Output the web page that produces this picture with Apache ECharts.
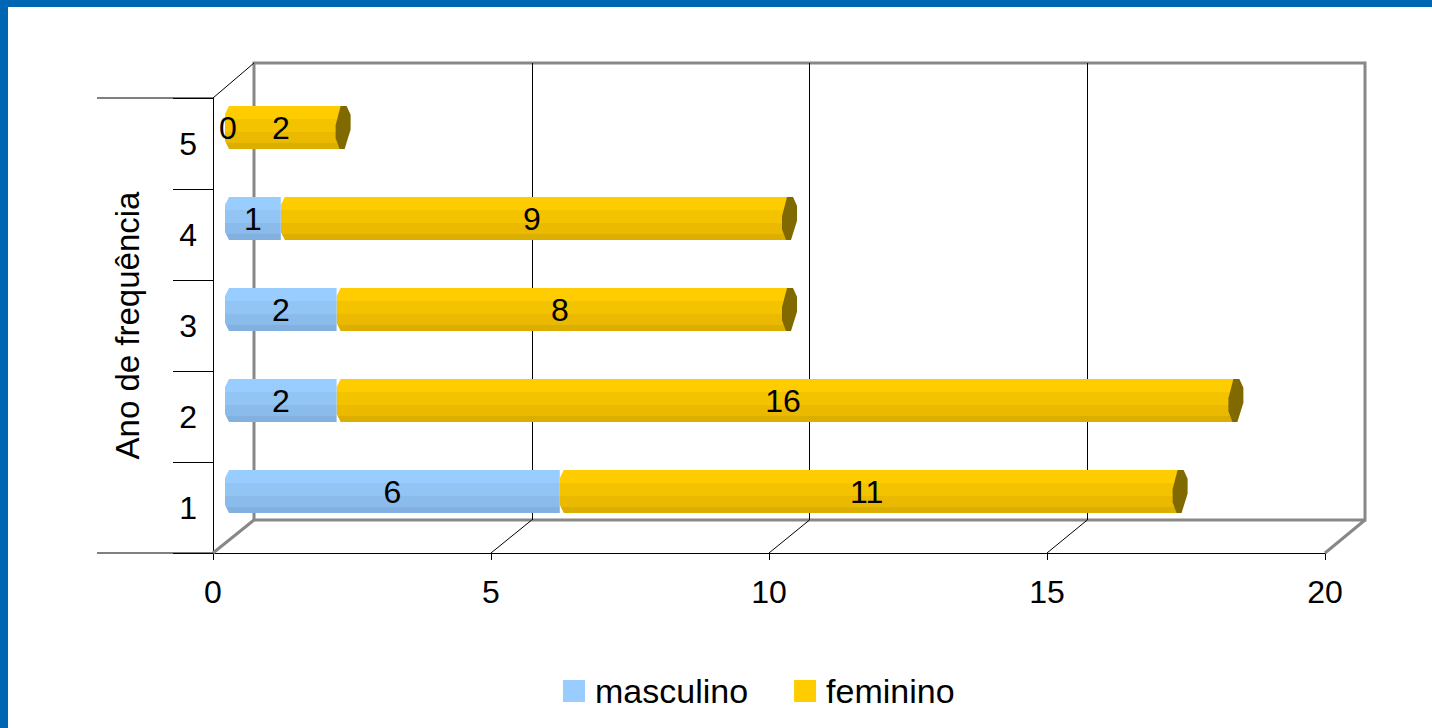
<!DOCTYPE html>
<html>
<head>
<meta charset="utf-8">
<script src="https://cdn.jsdelivr.net/npm/echarts@6/dist/echarts.min.js"></script>
<style>
html, body { margin: 0; padding: 0; background: #fff; }
#chart { position: absolute; left: 0; top: 0; width: 1432px; height: 728px; }
.faixa { position: absolute; background: #0066b3; z-index: 5; }
</style>
</head>
<body>
<div id="chart"></div>
<div class="faixa" style="left:0;top:0;width:1432px;height:7px"></div>
<div class="faixa" style="left:0;top:0;width:8px;height:728px"></div>
<script>
// dados
const categorias = ['1', '2', '3', '4', '5'];
const masculino = [6, 2, 2, 1, 0];
const feminino = [11, 16, 8, 9, 2];
const ticksX = [0, 5, 10, 15, 20];

const W = 1432, H = 728;
// caixa 3D: plano da frente, plano do fundo e plano das barras
const frente = { left: 213, right: 1325, top: 98, bottom: 553 };
const fundo = { left: 254, right: 1365, top: 63, bottom: 520 };
const plano = { left: 225, right: 1341, top: 82, bottom: 537 };

const fonte = 'Liberation Sans, Arial, sans-serif';

const corAzul = ['#99ccff', '#92c4f4', '#8bbbeb', '#82b0e0'];
const corOuro = ['#ffcc00', '#f4c300', '#eab900', '#dcae00'];

function gradiente(c) {
    return new echarts.graphic.LinearGradient(0, 0, 0, 1, [
        { offset: 0, color: c[0] }, { offset: 0.3, color: c[0] },
        { offset: 0.31, color: c[1] }, { offset: 0.6, color: c[1] },
        { offset: 0.61, color: c[2] }, { offset: 0.85, color: c[2] },
        { offset: 0.86, color: c[3] }, { offset: 1, color: c[3] }
    ]);
}

// desenha um segmento de barra (prisma) com o rótulo do valor
function barra(cores, tampa) {
    return function (params, api) {
        const cat = api.value(0), ini = api.value(1), fim = api.value(2), v = api.value(3);
        const p0 = api.coord([ini, cat]);
        const p1 = api.coord([fim, cat]);
        const h = api.size([0, 1])[1] * 0.47;
        const t = p0[1] - h / 2, b = p0[1] + h / 2;
        const x0 = p0[0];
        let x1 = p1[0];
        const filhos = [];
        if (fim > ini) {
            if (tampa) x1 = x1 + 6;
            filhos.push({
                type: 'polygon',
                shape: { points: [[x0 + 4, t], [x1, t], [x1, b], [x0 + 4, b], [x0, b - 8], [x0, t + 8]] },
                style: { fill: gradiente(cores) }
            });
            if (tampa) {
                filhos.push({
                    type: 'polygon',
                    shape: { points: [
                        [x1 - 2, t], [x1 + 4, t], [x1 + 8, t + 0.2 * h], [x1 + 8, t + 0.55 * h],
                        [x1 + 2, b], [x1 - 3, b], [x1 - 7, b - 0.25 * h], [x1 - 7, t + 0.45 * h]
                    ] },
                    style: { fill: '#806a00' }
                });
            }
        }
        filhos.push({
            type: 'text',
            style: {
                text: String(v), x: (p0[0] + p1[0]) / 2 + (fim > ini ? 0 : 3), y: p0[1],
                align: 'center', verticalAlign: 'middle',
                fontSize: 32, fontFamily: fonte, fill: '#000'
            }
        });
        return { type: 'group', children: filhos };
    };
}

const dadosMasc = categorias.map((c, i) => [i, 0, masculino[i], masculino[i]]);
const dadosFem = categorias.map((c, i) => [i, masculino[i], masculino[i] + feminino[i], feminino[i]]);

const myChart = echarts.init(document.getElementById('chart'), null, { renderer: 'svg' });

myChart.setOption({
    animation: false,
    backgroundColor: '#fff',
    textStyle: { fontFamily: fonte },
    legend: {
        data: ['masculino', 'feminino'],
        left: 558,
        top: 669,
        icon: 'rect',
        itemWidth: 22,
        itemHeight: 22,
        itemGap: 46,
        textStyle: { fontSize: 34, color: '#000', fontFamily: fonte, padding: [0, 0, 0, 5] }
    },
    grid: [
        { left: plano.left, right: W - plano.right, top: plano.top, bottom: H - plano.bottom },
        { left: frente.left, right: W - frente.right, top: frente.top, bottom: H - frente.bottom },
        { left: fundo.left, right: W - fundo.right, top: fundo.top, bottom: H - fundo.bottom,
          show: true, borderColor: '#888', borderWidth: 3, backgroundColor: 'transparent', z: 0 }
    ],
    xAxis: [
        { gridIndex: 0, type: 'value', min: 0, max: 20, show: false },
        {
            gridIndex: 1, type: 'value', min: 0, max: 20, interval: 5,
            axisLine: { show: true, lineStyle: { color: '#000', width: 1 } },
            axisTick: { show: true, length: 7, lineStyle: { color: '#000' } },
            axisLabel: { fontSize: 32, color: '#000', margin: 23, fontFamily: fonte },
            splitLine: { show: false }
        },
        {
            gridIndex: 2, type: 'value', min: 0, max: 20, interval: 5,
            axisLine: { show: false }, axisTick: { show: false }, axisLabel: { show: false },
            splitLine: { show: true, showMinLine: false, showMaxLine: false, lineStyle: { color: '#000', width: 1 } }
        }
    ],
    yAxis: [
        { gridIndex: 0, type: 'category', data: categorias, show: false },
        {
            gridIndex: 1, type: 'category', data: categorias,
            name: 'Ano de frequência', nameLocation: 'middle', nameGap: 69,
            nameTextStyle: { fontSize: 33, color: '#000', fontFamily: fonte },
            axisLine: { show: true, lineStyle: { color: '#000', width: 1 } },
            axisTick: { show: true, length: 40, lineStyle: { color: '#000' } },
            axisLabel: { fontSize: 32, color: '#000', margin: 16, fontFamily: fonte },
            splitLine: { show: false }
        },
        { gridIndex: 2, type: 'value', show: false, splitLine: { show: false } }
    ],
    series: [
        {
            name: 'masculino', type: 'custom', xAxisIndex: 0, yAxisIndex: 0,
            itemStyle: { color: '#99ccff' },
            encode: { x: [1, 2], y: 0 },
            renderItem: barra(corAzul, false),
            data: dadosMasc, z: 12
        },
        {
            name: 'feminino', type: 'custom', xAxisIndex: 0, yAxisIndex: 0,
            itemStyle: { color: '#ffcc00' },
            encode: { x: [1, 2], y: 0 },
            renderItem: barra(corOuro, true),
            data: dadosFem, z: 11
        }
    ]
});

// linhas de profundidade da caixa 3D, a partir das escalas dos eixos
const linhas = [];
function linha(x1, y1, x2, y2, cor, largura) {
    linhas.push({ type: 'line', shape: { x1, y1, x2, y2 }, style: { stroke: cor, lineWidth: largura }, z: 1 });
}
ticksX.forEach(v => {
    const xf = myChart.convertToPixel({ xAxisIndex: 1 }, v);
    const xb = myChart.convertToPixel({ xAxisIndex: 2 }, v);
    const borda = v === ticksX[0] || v === ticksX[ticksX.length - 1];
    linha(xf, frente.bottom, xb, fundo.bottom, borda ? '#888' : '#000', borda ? 3 : 1);
});
linha(frente.left, frente.top, fundo.left, fundo.top, '#000', 1);
linha(97, frente.top, frente.left, frente.top, '#000', 1);
linha(97, frente.bottom, frente.left, frente.bottom, '#000', 1);

myChart.setOption({ graphic: linhas });
</script>
</body>
</html>
